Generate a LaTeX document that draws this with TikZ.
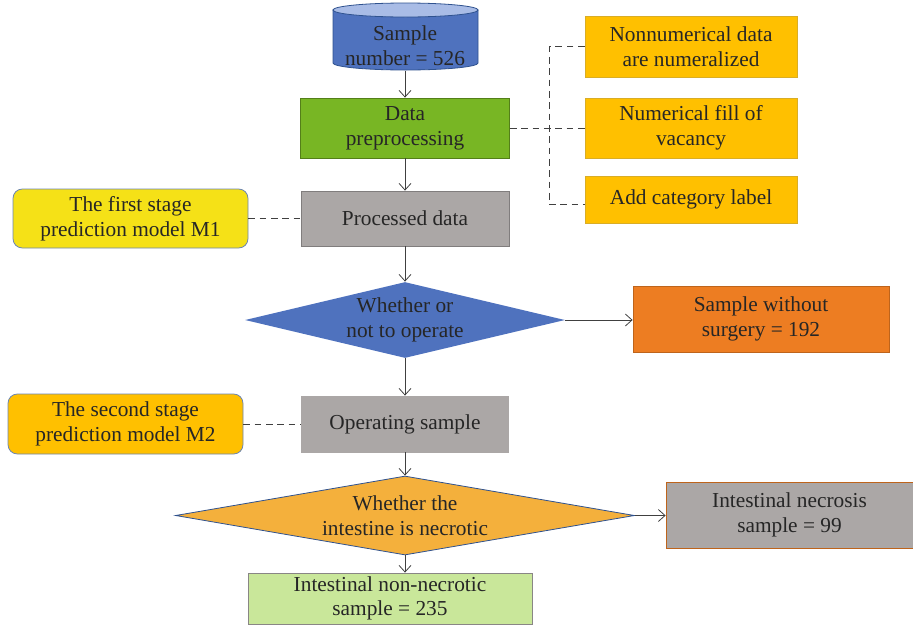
\documentclass[tikz,border=0pt]{standalone}
\usepackage{fontspec}
\setmainfont{Liberation Serif}
\usetikzlibrary{shapes.geometric,arrows.meta}
\definecolor{cylbody}{HTML}{4F72BE}
\definecolor{cyltop}{HTML}{A9BCE6}
\definecolor{cylline}{HTML}{2F528F}
\definecolor{prepgreen}{HTML}{78B624}
\definecolor{boxgray}{HTML}{ABA7A6}
\definecolor{stepgold}{HTML}{FFC000}
\definecolor{modelyellow}{HTML}{F5E117}
\definecolor{surgorange}{HTML}{ED7D22}
\definecolor{necrorange}{HTML}{F4B03C}
\definecolor{lightgreen}{HTML}{C9E79A}
\definecolor{linegray}{HTML}{404040}
\begin{document}
\begin{tikzpicture}[x=0.75pt,y=-0.75pt,
  txt/.style={align=center, font=\fontsize{16}{18.5}\selectfont, text=black!85},
  box/.style={txt, draw, line width=0.6pt, inner sep=2pt},
  model/.style={box, rounded corners=7pt, draw=cylline!70},
  decide/.style={txt, diamond, inner sep=0pt, line width=0.6pt},
  flow/.style={-{Straight Barb[length=5pt,width=9pt]}, line width=0.6pt, draw=linegray},
  dashline/.style={line width=0.6pt, draw=linegray, dash pattern=on 5pt off 3.5pt}]
\useasboundingbox (0,0) rectangle (913,629);
% source cylinder
\filldraw[fill=cylbody, draw=cylline, line width=0.6pt] (333,10) -- (333,63) arc[start angle=180, end angle=0, x radius=72.5, y radius=7] -- (478,10) -- cycle;
\filldraw[fill=cyltop, draw=cylline, line width=0.6pt] (405.5,10) ellipse[x radius=72.5, y radius=7];
\node[txt, minimum width=108pt, minimum height=36pt] (src) at (405,46) {Sample\\number = 526};
% main column
\node[box, fill=prepgreen, draw=prepgreen!70!black, minimum width=156.75pt, minimum height=45pt] (prep) at (405,128) {Data\\preprocessing};
\node[box, fill=boxgray, draw=boxgray!75!black, minimum width=156pt, minimum height=41.25pt] (proc) at (405,218.5) {Processed data};
\node[decide, fill=cylbody, aspect=4.2, minimum width=240pt, minimum height=57pt] (oper) at (405,320) {Whether or\\not to operate};
\node[box, fill=boxgray, draw=boxgray, minimum width=155.25pt, minimum height=42pt] (opsam) at (405,424) {Operating sample};
\node[decide, draw=cylline, fill=necrorange, aspect=5.8, minimum width=344.25pt, minimum height=59.25pt] (necq) at (405,515.5) {Whether the\\intestine is necrotic};
\node[box, fill=lightgreen, draw=boxgray!80!black, minimum width=213pt, minimum height=38.25pt] (nonnec) at (390,598.5) {Intestinal non-necrotic\\sample = 235};
% preprocessing steps
\node[box, fill=stepgold, draw=stepgold!70!gray, minimum width=159pt, minimum height=45.75pt] (nonnum) at (691,46.5) {Nonnumerical data\\are numeralized};
\node[box, fill=stepgold, draw=stepgold!70!gray, minimum width=159pt, minimum height=45pt] (fill) at (691,128) {Numerical fill of\\vacancy};
\node[box, fill=stepgold, draw=stepgold!70!gray, minimum width=159pt, minimum height=35.25pt] (cat) at (691,199.5) {Add category label};
% models
\node[model, fill=modelyellow, minimum width=176.25pt, minimum height=44.25pt] (m1) at (130.5,218.5) {The first stage\\prediction model M1};
\node[model, fill=stepgold, minimum width=176.25pt, minimum height=45pt] (m2) at (125.5,424) {The second stage\\prediction model M2};
% outcomes
\node[box, fill=surgorange, draw=surgorange!80!black, minimum width=192pt, minimum height=49.5pt] (nosurg) at (761,319) {Sample without\\surgery = 192};
\node[box, fill=boxgray, draw=surgorange!80!black, minimum width=185.25pt, minimum height=49.5pt] (necr) at (789.5,515) {Intestinal necrosis\\sample = 99};
% connectors
\draw[flow] (src) -- (prep);
\draw[flow] (prep) -- (proc);
\draw[flow] (proc) -- (oper);
\draw[flow] (oper) -- (opsam);
\draw[flow] (opsam) -- (necq);
\draw[flow] (necq.south) -- (necq.south |- nonnec.north);
\draw[flow] (oper.east) -- (oper.east -| nosurg.west);
\draw[flow] (necq.east) -- (necq.east -| necr.west);
\draw[dashline] (prep.east) -- (fill.west);
\draw[dashline] (nonnum.west) -- ++(-35,0) |- ([yshift=-4pt]cat.west);
\draw[dashline] (m1) -- (proc);
\draw[dashline] (m2) -- (opsam);
\end{tikzpicture}
\end{document}
